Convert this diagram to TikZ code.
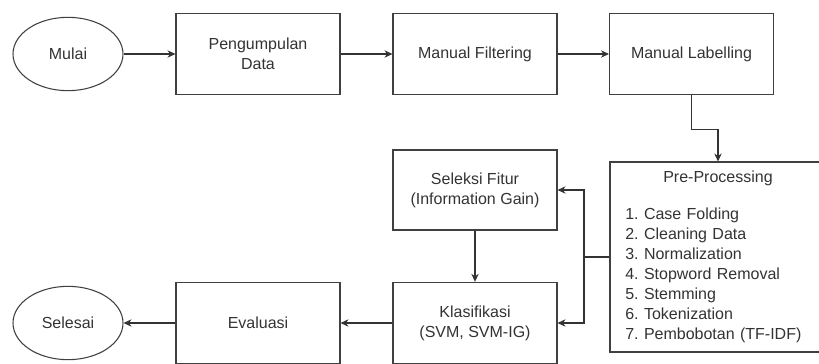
\documentclass[tikz,border=0pt]{standalone}
\usepackage{fontspec}
\setmainfont{Liberation Sans}
\usetikzlibrary{arrows.meta,shapes.geometric}
\frenchspacing
\tikzset{
  box/.style={draw=black!75, line width=0.8pt, minimum width=123pt, minimum height=61pt, align=center, text=black!80},
  terminal/.style={ellipse, draw=black!75, line width=0.8pt, minimum width=82.5pt, minimum height=55pt, inner sep=0pt, text=black!80},
  flow/.style={draw=black!80, line width=0.8pt, -{Stealth[length=6pt,width=5.5pt]}}
}
\begin{document}
\begin{tikzpicture}[x=0.75pt,y=-0.75pt,font=\fontsize{12}{15}\selectfont]
      \useasboundingbox (0,0) rectangle (819,364);
      \clip (0,0) rectangle (819,364);
      \draw
        (68,54) node[terminal] (mulai){Mulai}
        (258,54) node[box] (pengumpulan){Pengumpulan\\Data}
        (475,54) node[box] (filtering){Manual Filtering}
        (691.5,54) node[box] (labelling){Manual Labelling}
        (718,257) node[box, minimum width=162pt, minimum height=142.5pt, text width=139pt, inner xsep=11.5pt, align=left] (pre){\makebox[\linewidth]{Pre-Processing}\\[13pt]
          1. Case Folding\\
          2. Cleaning Data\\
          3. Normalization\\
          4. Stopword Removal\\
          5. Stemming\\
          6. Tokenization\\
          7. Pembobotan (TF-IDF)}
        (475,190) node[box, minimum height=60pt] (seleksi){Seleksi Fitur\\(Information Gain)}
        (475,323) node[box] (klasifikasi){Klasifikasi\\(SVM, SVM-IG)}
        (258,323) node[box] (evaluasi){Evaluasi}
        (68,323) node[terminal] (selesai){Selesai};
      \coordinate (cabang) at (584,257);
      \begin{scope}[flow]
        \draw (mulai) to (pengumpulan);
        \draw (pengumpulan) to (filtering);
        \draw (filtering) to (labelling);
        \draw (labelling.south) -- ++(0,34) -| (pre.north);
        \draw[-] (pre.west) -- (cabang);
        \draw (cabang) |- (seleksi.east);
        \draw (cabang) |- (klasifikasi.east);
        \draw (seleksi) to (klasifikasi);
        \draw (klasifikasi) to (evaluasi);
        \draw (evaluasi) to (selesai);
      \end{scope}
    \end{tikzpicture}
\end{document}
